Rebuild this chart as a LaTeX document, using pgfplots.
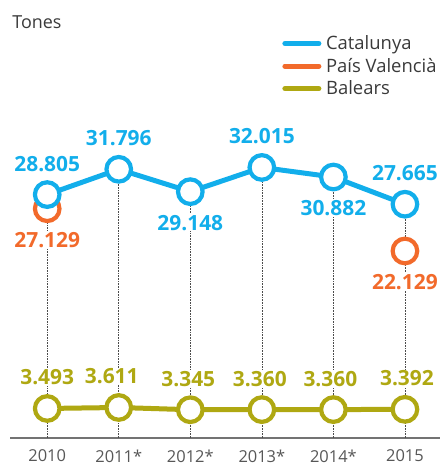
\documentclass[border=0pt]{standalone}
\usepackage{pgfplots}
\pgfplotsset{compat=1.18}
\usepackage{pgfplotstable}
\usepackage{fontspec}
\setmainfont{Open Sans}
\definecolor{cat}{HTML}{12AEEB}
\definecolor{val}{HTML}{F26A2B}
\definecolor{bal}{HTML}{AFA812}
\definecolor{txt}{HTML}{3A3A3A}

% x y label pos xs
\pgfplotstableread{
x y lab pos xs
0 28805 28.805 1 0
1 31796 31.796 1 0
2 29148 29.148 -1 0
3 32015 32.015 1 0
4 30882 30.882 -1 0
5 27665 27.665 1 0
}\cat
\pgfplotstableread{
x y lab pos xs
0 27129 27.129 -1 0
5 22129 22.129 -1 0
}\val
\pgfplotstableread{
x y lab pos xs
0 3493 3.493 1 0
1 3611 3.611 1 -7
2 3345 3.345 1 -2
3 3360 3.360 1 -2
4 3360 3.360 1 -3
5 3392 3.392 1 2
}\bal

\begin{document}
\begin{tikzpicture}
\begin{axis}[
  scale only axis,
  width=430bp, height=438bp,
  xmin=-0.52, xmax=5.49,
  ymin=0, ymax=51830,
  axis x line*=bottom,
  axis y line=none,
  x axis line style={-, draw=black!55, line width=1.3bp},
  xtick={0,...,5},
  xticklabels={2010,2011*,2012*,2013*,2014*,2015},
  xtick style={draw=none},
  x tick label style={font=\fontsize{16.5}{16.5}\selectfont, text=txt!85, yshift=-8bp},
  clip=false,
  legend style={at={(axis description cs:0.633,0.849)}, anchor=west, draw=none, fill=none,
    inner sep=0pt, row sep=3bp, font=\fontsize{18.5}{18.5}\selectfont, text=txt,
    legend cell align=left},
  legend image code/.code={\draw[line cap=round, line width=5bp, #1] (0bp,0bp) -- (34bp,0bp);
    \path (39bp,0bp);},
  every node near coord/.append style={font=\fontsize{21}{21}\bfseries\selectfont,
    fill=white, inner sep=1bp, anchor=center},
  visualization depends on={\thisrow{pos} \as \lpos},
  visualization depends on={\thisrow{xs} \as \lxs},
  nodes near coords style={yshift=\lpos*31bp, xshift=\lxs*1bp},
]
\addlegendimage{cat}\addlegendentry{Catalunya}
\addlegendimage{val}\addlegendentry{País Valencià}
\addlegendimage{bal}\addlegendentry{Balears}

% dotted droplines
\addplot[ycomb, densely dotted, black!70, line width=0.6bp, forget plot] table[x=x,y=y] {\cat};

\addplot[only marks, mark=*, mark size=12.3bp, mark options={draw=val, fill=white, line width=4.2bp},
  nodes near coords, point meta=explicit symbolic, every node near coord/.append style={text=val}, forget plot]
  table[x=x,y=y,meta=lab] {\val};

\addplot[cat, line width=5bp, mark=*, mark size=12.3bp, mark options={fill=white, line width=4.2bp},
  nodes near coords, point meta=explicit symbolic, every node near coord/.append style={text=cat}, forget plot]
  table[x=x,y=y,meta=lab] {\cat};

\addplot[bal, line width=5bp, mark=*, mark size=12.3bp, mark options={fill=white, line width=4.2bp},
  nodes near coords, point meta=explicit symbolic, every node near coord/.append style={text=bal}, forget plot]
  table[x=x,y=y,meta=lab] {\bal};

\node[anchor=west, font=\fontsize{18}{18}\selectfont, text=txt, inner sep=0pt]
  at (axis description cs:0.005,0.95) {Tones};
\end{axis}
\pgfresetboundingbox
\path (-10bp,-27bp) rectangle (432bp,438bp);
\end{tikzpicture}
\end{document}
